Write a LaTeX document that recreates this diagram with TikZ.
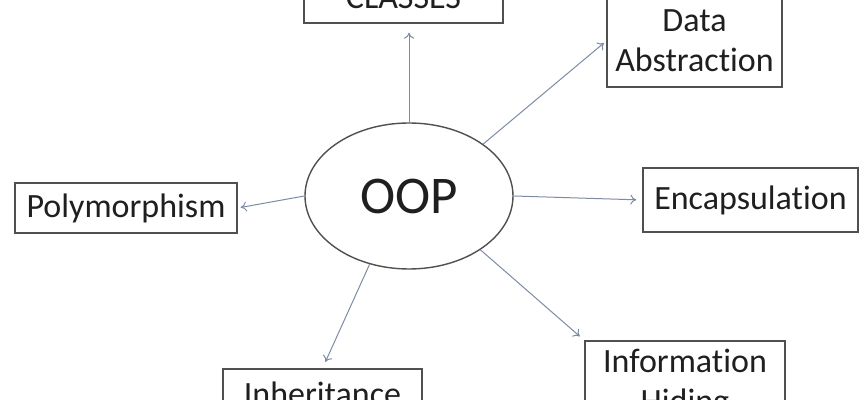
\documentclass[tikz,border=0pt]{standalone}
\usepackage{fontspec}
\setmainfont{Carlito}[Ligatures={NoCommon,NoRequired,NoContextual}]
\usetikzlibrary{arrows.meta,shapes.geometric}
\definecolor{arrowc}{RGB}{125,140,165}
\definecolor{boxc}{RGB}{80,80,80}
\begin{document}
\begin{tikzpicture}[x=0.5pt,y=-0.5pt,
  conceptbox/.style={draw=boxc, line width=0.7pt, rectangle, inner sep=0pt, align=center,
    font=\fontsize{17}{20}\selectfont, text=black!88},
  arr/.style={draw=arrowc, line width=0.5pt, -{To[length=3pt,width=5pt]}}]
\useasboundingbox (0,0) rectangle (864,400);
\clip (0,0) rectangle (864,400);
\fill[white] (0,0) rectangle (864,400);
\node[ellipse, draw=boxc, line width=0.7pt, minimum width=104pt, minimum height=73pt,
  inner sep=0pt, font=\fontsize{26.5}{30}\selectfont, text=black!88] (oop) at (409,196) {OOP};
\node[conceptbox, minimum width=99.5pt, minimum height=25pt] (classes) at (403.5,-2) {CLASSES};
\node[conceptbox, minimum width=87.5pt, minimum height=46pt] (data) at (694.5,41) {Data\\Abstraction};
\node[conceptbox, minimum width=107.5pt, minimum height=32pt] (encap) at (750.5,200) {Encapsulation};
\node[conceptbox, minimum width=111pt, minimum height=25pt] (poly) at (126,208) {Polymorphism};
\node[conceptbox, minimum width=99.5pt, minimum height=25pt] (inherit) at (322.5,394) {Inheritance};
\node[conceptbox, minimum width=100pt, minimum height=43pt] (info) at (685,384) {Information\\Hiding};
\draw[arr, shorten >=4.5pt] (oop.north) -- (oop.north |- classes.south);
\draw[arr, shorten >=1.5pt] (oop.35) -- (data.west);
\draw[arr, shorten >=3pt] (oop.east) -- (encap.west);
\draw[arr, shorten >=1.5pt] (oop.west) -- (poly.east);
\draw[arr, shorten >=3.5pt] (oop.240) -- (inherit.north);
\draw[arr, shorten >=3pt] (oop.323) -- (info.north west);
\end{tikzpicture}
\end{document}
